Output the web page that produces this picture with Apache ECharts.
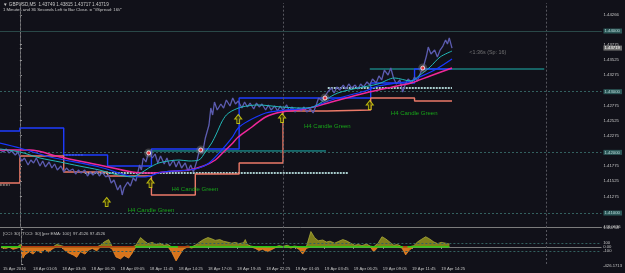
<!DOCTYPE html>
<html><head><meta charset="utf-8">
<script src="https://cdn.jsdelivr.net/npm/echarts@6/dist/echarts.min.js"></script>
<style>html,body{margin:0;padding:0;background:#111119;}#c{width:625px;height:273px;}</style>
</head><body><div id="c"></div>
<script>
// ---- time axis (bar index, M5 bars, 0 = 18 Apr 00:00) ----
const timeTicks = [-20,13,45,77,109,141,173,205,237,269,301,333,365,397,429,461];
const timeLabels = ['15 Apr 2016','18 Apr 01:05','18 Apr 03:45','18 Apr 06:25','18 Apr 09:05','18 Apr 11:45','18 Apr 14:25','18 Apr 17:05','18 Apr 19:45','18 Apr 22:25','19 Apr 01:05','19 Apr 03:45','19 Apr 06:25','19 Apr 09:05','19 Apr 11:45','19 Apr 14:25'];
const daySeps = [0, 288, 576];

// ---- price axis ----
const priceTicks = [1.44266,1.44000,1.43775,1.43719,1.43525,1.43275,1.43000,1.42775,1.42525,1.42275,1.42000,1.41775,1.41525,1.41275,1.41000,1.40758];
const roundLevels = [1.44000,1.43000,1.42000,1.41000];
const lastClose = 1.43719;

// ---- price (close line) ----
const priceBars = [-22,-18,-15,-12,-9,-5,-2, 0,2,5,9,12,15,18, 22,25,28,32,35,38,41, 45,48,51,54,58,61,64,
 67,71,74,77,80,84,87, 90,94,97,100,103,107,110, 112,114,118,121,124,127,131, 133,135,138,141,145,148,151,
 154,158,161,164,168,171,174, 177,181,184,187,190,194,197, 200,203,207,209,211,213,216, 220,223,226,230,233,236,239,
 243,246,249,252,256,259,262, 265,269,272,275,279,282,285, 288,292,295,298,301,305,308, 311,314,318,321,324,327,331,
 334,337,341,344,347,350,354, 357,360,363,367,370,373,376, 380,383,386,390,393,396,399, 403,406,409,412,416,419,422,
 425,429,432,435,438,442,445, 447,450,454,457,460,463,466, 468,470,473];
const priceVals = [1.42039,1.42006,1.42056,1.41990,1.42023,1.41957,1.42006,
 1.41924,1.41858,1.41907,1.41792,1.41874,1.41825,1.41907,
 1.41775,1.41858,1.41759,1.41841,1.41742,1.41808,1.41709,
 1.41775,1.41676,1.41742,1.41693,1.41726,1.41643,1.41709,
 1.41660,1.41709,1.41610,1.41676,1.41627,1.41693,1.41610,
 1.41676,1.41594,1.41627,1.41495,1.41544,1.41380,1.41462,
 1.41297,1.41413,1.41511,1.41445,1.41577,1.41528,1.41792,
 1.41709,1.41907,1.41841,1.42006,1.41907,1.41973,1.41825,
 1.41940,1.41808,1.41907,1.41775,1.41874,1.41759,1.41858,
 1.41742,1.41825,1.41693,1.41792,1.41676,1.41874,1.42072,
 1.41990,1.42237,1.42451,1.42731,1.42616,1.42830,1.42698,
 1.42797,1.42731,1.42863,1.42764,1.42896,1.42797,1.42846,
 1.42731,1.42830,1.42748,1.42813,1.42715,1.42813,1.42748,
 1.42797,1.42698,1.42781,1.42698,1.42764,1.42682,1.42764,
 1.42698,1.42781,1.42682,1.42748,1.42665,1.42731,1.42682,
 1.42748,1.42665,1.42715,1.42649,1.42764,1.42896,1.42846,
 1.42929,1.42995,1.43061,1.42978,1.43077,1.43028,1.43110,
 1.43044,1.43127,1.43061,1.43110,1.43044,1.43127,1.43077,
 1.43160,1.43110,1.43209,1.43143,1.43259,1.43193,1.43357,
 1.43275,1.43390,1.43226,1.43127,1.43193,1.42995,1.43127,
 1.43209,1.43143,1.43242,1.43176,1.43291,1.43423,1.43588,
 1.43736,1.43621,1.43687,1.43572,1.43687,1.43753,1.43852,
 1.43786,1.43885,1.43719];

// ---- moving averages ----
const maFastBars = [-22,0,22,44,65,87,103,114,123,131,141,152,163,174,185,196,203,210,215,221,226,232,243,261,286,308,321,334,348,370,392,410,428,438,449,460,473];
const maFastVals = [1.42056,1.42006,1.41907,1.41841,1.41775,1.41709,1.41643,1.41610,1.41594,1.41643,1.41742,1.41825,1.41858,1.41874,1.41858,1.41874,1.42006,1.42154,1.42303,1.42501,1.42616,1.42682,1.42748,1.42781,1.42748,1.42731,1.42748,1.42863,1.42978,1.43061,1.43127,1.43226,1.43176,1.43275,1.43407,1.43572,1.43670];
const maMidBars = [-22,0,33,87,120,136,156,185,196,207,221,232,239,250,269,290,316,341,378,392,413,428,435,454,473];
const maMidVals = [1.42154,1.42072,1.41924,1.41759,1.41610,1.41594,1.41676,1.41709,1.41742,1.41825,1.42039,1.42237,1.42402,1.42517,1.42649,1.42698,1.42731,1.42863,1.43011,1.43094,1.43143,1.43176,1.43226,1.43357,1.43539];
const maSlowBars = [-22,11,44,87,123,145,169,185,201,214,223,232,239,254,269,286,312,341,378,413,428,449,473];
const maSlowVals = [1.42039,1.42039,1.41924,1.41792,1.41676,1.41660,1.41693,1.41709,1.41775,1.41874,1.42006,1.42138,1.42253,1.42418,1.42583,1.42665,1.42715,1.42830,1.42978,1.43094,1.43143,1.43259,1.43390];

// ---- H4 high / low step levels ----
const h4HighBars = [-22,0,48,96,144,240,384,432,473];
const h4HighVals = [1.42352,1.42402,1.41957,1.41775,1.42056,1.42896,1.43143,1.43374,1.43374];
const h4LowBars = [-22,0,48,96,144,192,240,288,336,384,432,473];
const h4LowVals = [1.41495,1.41940,1.41676,1.41610,1.41297,1.41643,1.41825,1.42682,1.42698,1.42896,1.42846,1.42846];

// ---- horizontal level segments [startBar, endBar, price] ----
const cyanLevels = [[139,335,1.42023],[383,574,1.43374]];
const paleThickLevels = [[71,359,1.41660],[337,473,1.43061]];
const paleThinLevels = [[47,69,1.41957],[-22,-11,1.41462]];

// ---- signals ----
const dotBars = [141,198,334,441];
const dotVals = [1.41990,1.42039,1.42896,1.43390];
const arrowBars = [95,143,239,287,383];
const arrowVals = [1.41182,1.41495,1.42550,1.42567,1.42781];
const noteBars = [118,166,311,406];
const noteVals = [1.41050,1.41396,1.42434,1.42649];
const noteText = 'H4 Candle Green';
const timerBar = 492, timerVal = 1.43638, timerText = '<1:36s (Sp: 16)';

// ---- CCI sub-window ----
const cciBars = [-22,-17,-13,-9,-4,-1,2,4,9,13,17,22,26,30,35,39,44,48,52,57,61,65,70,74,78,83,87,91,96,100,104,109,113,118,122,126,131,135,139,144,148,152,157,161,165,170,174,178,183,187,191,196,200,205,209,213,218,222,226,231,235,239,244,246,248,252,257,261,265,270,274,279,283,287,292,296,300,305,309,313,318,322,326,331,335,339,344,348,353,357,361,366,370,374,379,383,387,392,396,400,405,409,413,418,422,426,431,435,439,444,448,453,457,461,466,470];
const cciVals = [-20,-40,-10,-60,-30,60,-280,-200,-120,-180,-90,-150,-60,-130,-40,60,30,-90,-150,-200,-260,-120,-180,-80,-40,-100,40,120,180,-60,-250,-300,-220,-280,-150,40,230,150,80,110,60,90,40,60,-120,-350,-200,-60,20,-30,40,120,180,230,200,160,180,140,120,90,110,80,100,180,60,20,-40,-90,-60,-120,-80,-20,30,10,40,-30,20,-60,-180,-40,380,230,150,170,120,140,90,130,180,150,100,40,60,30,70,20,-120,100,250,200,110,40,60,-30,-200,-80,30,120,180,250,200,120,80,110,90,70];
const cciTicks = [443.0636,100,0,-100,-426.1713];
const cciTickLabels = ['443.0636','100','0.00','-100','-426.1713'];
const cciLevels = [100,-100];
const cciRedRanges = [[0,125],[172,185],[419,424]];
const cciMin = -426.1713, cciMax = 443.0636;

// ---------------------------------------------------------------
const zip = (a,b)=>a.map((x,i)=>[x,b[i]]);
const segs = list => { const d=[]; list.forEach((s,k)=>{ if(k) d.push([null,null]); d.push([s[0],s[2]],[s[1],s[2]]); }); return d; };
const FONT = 'Liberation Sans';
const near = (a,b)=>Math.abs(a-b)<1e-7;

const redZero = [];
cciRedRanges.forEach((r,k)=>{ if(k) redZero.push([null,null]); redZero.push([r[0],0],[r[1],0]); });

const chart = echarts.init(document.getElementById('c'), null, {renderer:'canvas'});
const option = {
  backgroundColor:'#111119',
  animation:false,
  textStyle:{fontFamily:FONT},
  grid:[
    {left:0,right:20,top:3,height:224.7},
    {left:0,right:20,top:229,height:35}
  ],
  xAxis:[
    {type:'value',gridIndex:0,min:-21.76,max:636.6,axisLine:{show:true,lineStyle:{color:'#7c7c7c'}},axisTick:{show:false},axisLabel:{show:false},splitLine:{show:false}},
    {type:'value',gridIndex:1,min:-21.76,max:636.6,axisLine:{show:true,lineStyle:{color:'#7c7c7c'}},
     axisTick:{show:true,customValues:timeTicks,length:2,lineStyle:{color:'#9a9a9a'}},
     axisLabel:{customValues:timeTicks,formatter:v=>timeLabels[timeTicks.findIndex(t=>near(t,v))]||'',fontSize:4.2,color:'#c4c4c4',align:'left',margin:2.5,fontFamily:FONT},
     splitLine:{show:false}}
  ],
  yAxis:[
    {type:'value',gridIndex:0,position:'right',min:1.40758,max:1.44462,
     axisLine:{show:true,lineStyle:{color:'#7c7c7c'}},
     axisTick:{show:true,customValues:priceTicks,length:2,lineStyle:{color:'#9a9a9a'}},
     axisLabel:{customValues:priceTicks,fontSize:4.3,color:'#c4c4c4',margin:2,fontFamily:FONT,
       formatter:v=>{const s=v.toFixed(5); if(roundLevels.some(r=>near(r,v))) return '{r|'+s+'}'; if(near(v,lastClose)) return '{c|'+s+'}'; return s;},
       rich:{r:{backgroundColor:'#2c5858',color:'#b8d8d8',fontSize:4.3,padding:[0.5,2,0.5,1],fontFamily:FONT},
             c:{backgroundColor:'#707070',color:'#ffffff',fontSize:4.3,padding:[0.5,2,0.5,1],fontFamily:FONT}}},
     splitLine:{show:false}},
    {type:'value',gridIndex:1,position:'right',min:cciMin,max:cciMax,
     axisLine:{show:true,lineStyle:{color:'#7c7c7c'}},
     axisTick:{show:true,customValues:cciTicks,length:2,lineStyle:{color:'#9a9a9a'}},
     axisLabel:{customValues:cciTicks,fontSize:4.2,color:'#c4c4c4',margin:2,fontFamily:FONT,
       verticalAlignMaxLabel:'top',verticalAlignMinLabel:'bottom',
       formatter:v=>cciTickLabels[cciTicks.findIndex(t=>Math.abs(t-v)<1e-6)]||''},
     splitLine:{show:false}}
  ],
  graphic:[
    {type:'text',left:3,top:2,style:{text:'\u25BC GBPUSD,M5  1.43749 1.43815 1.43717 1.43719',fill:'#c8c8c8',font:'4.6px '+FONT}},
    {type:'text',left:3,top:8,style:{text:'1 Minutes and 36 Seconds Left to Bar Close. = "\\/Spread: 16\\/"',fill:'#c8c8c8',font:'4.3px '+FONT}},
    {type:'text',left:3,top:231.5,style:{text:'[CCI: 30] [TCCI: 30] [per EMA: 100]  97.4526 97.4526',fill:'#c0c0c0',font:'4.3px '+FONT}}
  ],
  series:[
    // grid-like reference lines
    {type:'line',xAxisIndex:0,yAxisIndex:0,data:[],z:1,silent:true,
     markLine:{silent:true,symbol:'none',label:{show:false},animation:false,
       data:[
         ...roundLevels.map(v=>({yAxis:v,lineStyle:{color:'#33605f',type:[2,2],width:1}})),
         ...daySeps.map(v=>({xAxis:v,lineStyle:{color:'#56565e',type:[2,2],width:1}})),
         {yAxis:lastClose,lineStyle:{color:'#2a4848',type:'solid',width:1}}
       ]}},
    {type:'line',xAxisIndex:1,yAxisIndex:1,data:[],z:1,silent:true,
     markLine:{silent:true,symbol:'none',label:{show:false},animation:false,
       data:[
         ...cciLevels.map(v=>({yAxis:v,lineStyle:{color:'#33605f',type:[2,2],width:1}})),
         ...daySeps.map(v=>({xAxis:v,lineStyle:{color:'#56565e',type:[2,2],width:1}}))
       ]}},
    // horizontal level segments
    {type:'line',data:segs(paleThickLevels),symbol:'none',connectNulls:false,z:3,lineStyle:{color:'#a8cccc',width:2.2,type:[2,1]}},
    {type:'line',data:segs(paleThinLevels),symbol:'none',connectNulls:false,z:3,lineStyle:{color:'#d8c8b8',width:1,type:[2,1]}},
    {type:'line',data:segs(cyanLevels),symbol:'none',connectNulls:false,z:3,lineStyle:{color:'#1fb5b0',width:1}},
    // H4 step lines
    {type:'line',data:zip(h4HighBars,h4HighVals),step:'end',symbol:'none',z:4,lineStyle:{color:'#1e3cff',width:1.4}},
    {type:'line',data:zip(h4LowBars,h4LowVals),step:'end',symbol:'none',z:4,lineStyle:{color:'#ec7a68',width:1.4}},
    // price
    {type:'line',data:zip(priceBars,priceVals),symbol:'none',z:5,lineStyle:{color:'#5c5cb0',width:1.3}},
    // moving averages
    {type:'line',data:zip(maSlowBars,maSlowVals),symbol:'none',smooth:0.3,z:6,lineStyle:{color:'#f0289a',width:1.5}},
    {type:'line',data:zip(maMidBars,maMidVals),symbol:'none',smooth:0.3,z:6,lineStyle:{color:'#1838ff',width:1.2}},
    {type:'line',data:zip(maFastBars,maFastVals),symbol:'none',smooth:0.3,z:6,lineStyle:{color:'#22b8b8',width:1}},
    // signal dots
    {type:'scatter',data:zip(dotBars,dotVals),symbolSize:9,z:7,itemStyle:{color:'rgba(120,120,120,0.55)'}},
    {type:'scatter',data:zip(dotBars,dotVals),symbolSize:4,z:8,itemStyle:{color:'#ff2a2a',borderColor:'#ffffff',borderWidth:1}},
    // arrows
    {type:'scatter',data:zip(arrowBars,arrowVals),symbol:'path://M5,0 L10,5 L7,5 L7,10 L3,10 L3,5 L0,5 Z',symbolSize:[7,9],z:8,
     itemStyle:{color:'#3c3c00',borderColor:'#e0dc10',borderWidth:1}},
    // notes
    {type:'scatter',data:zip(noteBars,noteVals),symbolSize:0,z:8,
     label:{show:true,position:'right',distance:0,formatter:noteText,color:'#19c819',fontSize:6,fontFamily:FONT}},
    {type:'scatter',data:[[timerBar,timerVal]],symbolSize:0,z:8,
     label:{show:true,position:'right',distance:0,formatter:timerText,color:'#8a8a8a',fontSize:5.4,fontFamily:FONT}},
    // CCI
    {type:'line',xAxisIndex:1,yAxisIndex:1,data:cciBars.map((b,i)=>[b,Math.max(cciVals[i],0)]),symbol:'none',z:3,
     lineStyle:{color:'#a8a838',width:0.8},areaStyle:{color:'#7e7e1c',opacity:1}},
    {type:'line',xAxisIndex:1,yAxisIndex:1,data:cciBars.map((b,i)=>[b,Math.min(cciVals[i],0)]),symbol:'none',z:3,
     lineStyle:{color:'#ee8a2a',width:0.8},areaStyle:{color:'#d8741c',opacity:1}},
    {type:'line',xAxisIndex:1,yAxisIndex:1,data:[[cciBars[0],0],[cciBars[cciBars.length-1],0]],symbol:'none',z:4,lineStyle:{color:'#10e010',width:1.4}},
    {type:'line',xAxisIndex:1,yAxisIndex:1,data:redZero,symbol:'none',connectNulls:false,z:5,lineStyle:{color:'#e01010',width:1.4}}
  ]
};
chart.setOption(option);
</script></body></html>
